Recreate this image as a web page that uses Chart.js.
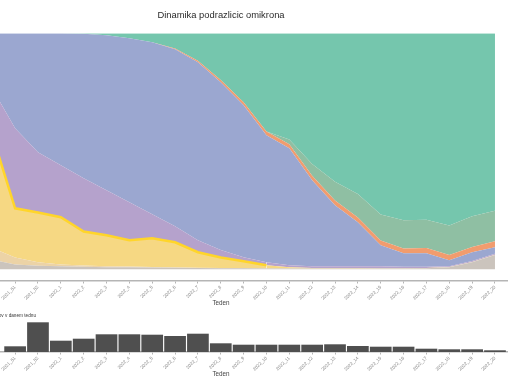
<!DOCTYPE html>
<html><head><meta charset="utf-8">
<script src="https://cdn.jsdelivr.net/npm/chart.js@4.4.1/dist/chart.umd.min.js"></script>
<style>
html,body{margin:0;padding:0;width:510px;height:382px;overflow:hidden;background:#fff;position:relative}
canvas{position:absolute}
#top{left:-66px;top:0}
#bot{left:-66px;top:305px}
</style></head><body>
<canvas id="top" width="574" height="309"></canvas>
<canvas id="bot" width="574" height="75"></canvas>
<script>
const categories = ['2021_48','2021_49','2021_50','2021_51','2021_52','2022_1','2022_2','2022_3','2022_4','2022_5','2022_6','2022_7','2022_8','2022_9','2022_10','2022_11','2022_12','2022_13','2022_14','2022_15','2022_16','2022_17','2022_18','2022_19','2022_20'];

// shares of sub-variants per week (fractions), bottom to top
const drugo    = [.05,.04,.04,.02,.015,.012,.01,.008,.008,.007,.006,.005,.004,.004,.003,.003,.003,.003,.003,.003,.003,.004,.008,.03,.06];
const delta    = [.8,.6,.05,.03,.015,.008,.006,.004,.003,.002,.002,.001,.001,0,0,0,0,0,0,0,0,0,0,0,0];
const ba1      = [.05,.15,.479,.208,.21,.2,.144,.132,.112,.122,.106,.066,.045,.030,.014,.005,.002,.002,.002,.001,.001,.001,.001,.001,.001];
const ba11     = [.05,.1,.197,.339,.256,.221,.226,.191,.161,.102,.068,.051,.031,.017,.013,.009,.008,.008,.008,.008,.006,.005,.004,.004,.004];
const ba2      = [.05,.11,.234,.403,.504,.559,.612,.657,.695,.729,.75,.754,.711,.644,.538,.496,.364,.258,.186,.09,.058,.058,.025,.037,.028];
const ba2121   = [0,0,0,0,0,0,0,0,0,0,.004,.007,.01,.013,.016,.017,.019,.02,.02,.02,.02,.022,.022,.022,.025];
const ba4      = [0,0,0,0,0,0,0,0,0,0,0,0,0,0,0,.02,.05,.08,.1,.11,.12,.12,.125,.13,.13];
const ba5      = [0,0,0,0,0,0,.002,.008,.021,.038,.064,.116,.198,.292,.416,.45,.554,.629,.681,.768,.792,.79,.815,.776,.752];

// number of samples per week
const steviloPrimerov = [null,null,null,228,1188,452,532,708,708,692,640,732,348,292,292,292,292,308,240,212,212,132,108,108,68];

const layers = [
  {label:'Drugo', data:drugo, color:'#cbc4bd'},
  {label:'Delta', data:delta, color:'#ecd3a6'},
  {label:'BA.1', data:ba1, color:'#f6d883', line:'#ffd52a'},
  {label:'BA.1.1', data:ba11, color:'#b5a2cc'},
  {label:'BA.2', data:ba2, color:'#9ba7d0'},
  {label:'BA.2.12.1', data:ba2121, color:'#f19c6e'},
  {label:'BA.4', data:ba4, color:'#8fbfa3'},
  {label:'BA.5', data:ba5, color:'#75c6ad'}
];

const FONT = 'Liberation Sans, Arial, Helvetica, sans-serif';
const xMin = -0.55, xMax = categories.length - 1 + 0.57;

function xAxis() {
  return {
    type:'linear', min:xMin, max:xMax, offset:false,
    afterFit: s => { s.paddingLeft = 0; s.paddingRight = 0; s.height = 28; },
    border:{display:true, color:'#b5b5b5', width:1.5},
    grid:{display:true, offset:false, drawOnChartArea:false, drawTicks:true, tickLength:2.5, color:'#b5b5b5', lineWidth:1},
    ticks:{stepSize:1, includeBounds:false, autoSkip:false, maxRotation:45, minRotation:45, padding:1,
      font:{family:FONT, size:4.6}, color:'#858585',
      callback: v => categories[v] ?? ''},
    title:{display:true, text:'Teden', font:{family:FONT, size:6.3}, color:'#444', padding:{top:0,bottom:2}}
  };
}

new Chart(document.getElementById('top'), {
  type:'line',
  data:{datasets: layers.map((l,i)=>({
    label:l.label,
    data:l.data.map((v,k)=>({x:k,y:v})),
    backgroundColor:l.color,
    borderColor:l.line || 'rgba(0,0,0,0)',
    borderWidth:l.line ? 2.5 : 0,
    segment: l.line ? {borderColor: c => (c.p0.parsed.y < 0.02 && c.p1.parsed.y < 0.02) ? 'rgba(0,0,0,0)' : l.line} : undefined,
    fill: i===0 ? 'origin' : '-1',
    pointRadius:0, tension:0
  }))},
  options:{
    responsive:false, animation:false,
    layout:{padding:0},
    plugins:{legend:{display:false}, tooltip:{enabled:false},
      title:{display:true, text:'Dinamika podrazlicic omikrona', font:{family:FONT, size:9.4, weight:'normal'}, color:'#2b2b2b', padding:{top:10,bottom:12}}},
    scales:{
      x: xAxis(),
      y:{display:false, stacked:true, min:-0.05, max:1}
    }
  }
});

const sideTitle = {
  id:'sideTitle',
  afterDraw(chart){
    const ctx = chart.ctx;
    ctx.save();
    ctx.font = '4.7px ' + FONT;
    ctx.fillStyle = '#333';
    ctx.textAlign = 'right';
    ctx.textBaseline = 'middle';
    ctx.fillText('Število sekvenciranih primerov v danem tednu', 102, 11);
    ctx.restore();
  }
};

new Chart(document.getElementById('bot'), {
  type:'bar',
  data:{datasets:[{
    label:'Število primerov',
    data:steviloPrimerov.map((v,k)=>({x:k,y:v})).filter(p=>p.y!==null),
    backgroundColor:'#4f4f4f', borderWidth:0,
    barPercentage:0.95, categoryPercentage:1
  }]},
  options:{
    responsive:false, animation:false,
    layout:{padding:{top:15}},
    plugins:{legend:{display:false}, tooltip:{enabled:false}},
    scales:{
      x: xAxis(),
      y:{display:false, min:0, max:1280}
    }
  },
  plugins:[sideTitle]
});
</script>
</body></html>
